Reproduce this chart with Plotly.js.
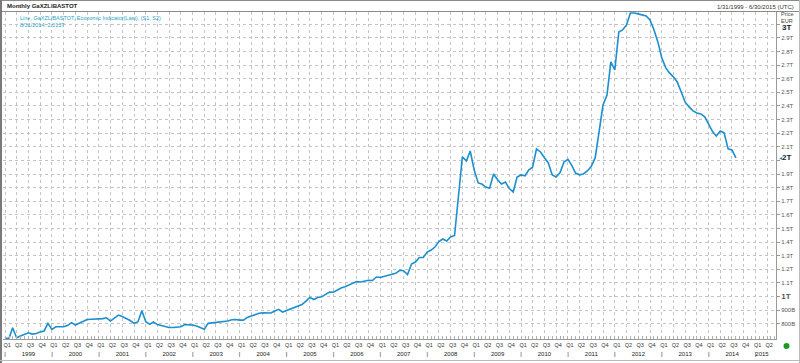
<!DOCTYPE html>
<html><head><meta charset="utf-8">
<script src="https://cdn.plot.ly/plotly-3.0.1.min.js"></script>
<style>html,body{margin:0;padding:0;background:#fff;}#chart{width:800px;height:363px;}</style>
</head><body><div id="chart"></div>
<script>
// ---- data (billions EUR), monthly from Jan 1999 ----
const startYear = 1999, startMonth = 0;
const values = [
 692,692,770,696,709,720,733,723,727,738,746,802,
 758,777,775,777,786,807,790,805,821,830,832,832,
 832,837,843,819,841,863,852,839,823,802,814,895,
 814,795,812,793,786,782,771,771,775,777,793,792,
 790,782,771,758,802,805,812,814,814,819,828,830,
 826,826,846,856,868,876,879,878,878,893,905,885,
 896,907,918,933,940,966,993,977,992,997,1014,1032,
 1031,1047,1062,1071,1082,1099,1110,1106,1113,1119,1117,1143,
 1139,1146,1157,1163,1170,1192,1189,1161,1238,1253,1286,1286,
 1326,1341,1363,1404,1422,1407,1437,1448,1733,2027,1996,2069,
 1929,1834,1826,1804,1795,1900,1860,1826,1841,1793,1768,1878,
 1893,1887,1929,1951,2084,2062,2021,1981,1893,1878,1911,1988,
 2008,1962,1907,1894,1900,1922,1955,2018,2216,2407,2481,2724,
 2665,2944,2959,2996,3084,3084,3077,3070,3062,3032,2959,2871,
 2753,2680,2643,2614,2577,2503,2430,2393,2364,2349,2342,2320,
 2269,2210,2180,2216,2202,2085,2077,2018
];
const yTickVals = [800,900,1000,1100,1200,1300,1400,1500,1600,1700,1800,1900,2000,2100,2200,2300,2400,2500,2600,2700,2800,2900,3000];
const yTickText = ['800B','900B','<b style="font-size:8px">1T</b>','1.1T','1.2T','1.3T','1.4T','1.5T','1.6T','1.7T','1.8T','1.9T','','2.1T','2.2T','2.3T','2.4T','2.5T','2.6T','2.7T','2.8T','2.9T',''];
const topTickLabel = '3T';
const years = [1999,2000,2001,2002,2003,2004,2005,2006,2007,2008,2009,2010,2011,2012,2013,2014,2015];
const quarterNames = ['Q1','Q2','Q3','Q4'];
const seriesName = 'Line, GaXZLIBASTOT, Economic Indicator(Last), (S1, S2)';
const lastLabel = '8/31/2014: 2.013T';
const lastTickLabel = '2T';

function pad(n){return (n<10?'0':'')+n;}
const dates = values.map((v,i)=>{const m=startMonth+i;return (startYear+Math.floor(m/12))+'-'+pad(m%12+1)+'-01';});

// quarter ticks
const qVals=[], qText=[];
years.forEach(y=>{[1,4,7,10].forEach((mo,k)=>{ if(y===2015 && k>1) return; qVals.push(y+'-'+pad(mo)+'-01'); qText.push(quarterNames[k]);});});
// year ticks
const yrVals=[], yrText=[];
years.forEach(y=>{yrVals.push(y+'-01-01'); yrText.push('|'); if(y<2015){yrVals.push(y+'-07-02'); yrText.push(String(y));} else {yrVals.push(y+'-02-20'); yrText.push(String(y));}});

const W=800,H=363,L=3,R=24,T=12,B=24;
const pw=W-L-R, ph=H-T-B;
const fx=px=>(px-L)/pw, fy=py=>1-(py-T)/ph;

const lineColor='#1b8fcf';
const font="Liberation Sans, Arial, sans-serif";

const traces=[
 {x:dates,y:values,type:'scatter',mode:'lines',line:{color:lineColor,width:1.6},hoverinfo:'skip',showlegend:false},
 {x:[dates[0]],y:[null],xaxis:'x2',type:'scatter',mode:'lines',showlegend:false,hoverinfo:'skip'}
];

const xRange=['1998-12-16','2015-06-09'];
const layout={
 width:W,height:H,margin:{l:L,r:R,t:T,b:B},
 paper_bgcolor:'#fff',plot_bgcolor:'#fff',
 font:{family:font,size:6,color:'#333'},
 showlegend:false,
 xaxis:{type:'date',range:xRange,tickmode:'array',tickvals:qVals,ticktext:qText,
   tickangle:0,tickfont:{size:5.5,color:'#333'},ticks:'',ticklabelshift:2,ticklabelstandoff:0,
   showgrid:true,gridcolor:'#c4c4c4',griddash:'dot',gridwidth:1,
   showline:true,linecolor:'#9a9a9a',linewidth:1,zeroline:false,
   minor:{ticks:'inside',ticklen:3,tickcolor:'#b0b0b0',dtick:'M1',tick0:'1999-01-01',showgrid:false},
   fixedrange:true},
 xaxis2:{type:'date',overlaying:'x',anchor:'y',side:'bottom',range:xRange,tickmode:'array',tickvals:yrVals,ticktext:yrText,
   tickangle:0,tickfont:{size:6,color:'#222'},ticks:'',showgrid:false,showline:false,zeroline:false,ticklabelstandoff:10},
 yaxis:{side:'right',range:[687,3091],tickmode:'array',tickvals:yTickVals,ticktext:yTickText,
   tickfont:{size:6,color:'#555'},ticks:'outside',ticklen:3,tickcolor:'#999',
   showgrid:true,gridcolor:'#c4c4c4',griddash:'dot',gridwidth:1,
   showline:true,linecolor:'#9a9a9a',linewidth:1,zeroline:false,fixedrange:true},
 shapes:[
  {type:'line',xref:'paper',yref:'paper',x0:fx(0),x1:fx(W),y0:fy(11.5),y1:fy(11.5),line:{color:'#8a8a8a',width:1}},
  {type:'line',xref:'paper',yref:'paper',x0:fx(0),x1:fx(W),y0:fy(0.5),y1:fy(0.5),line:{color:'#8a8a8a',width:1}},
  {type:'line',xref:'paper',yref:'paper',x0:fx(1),x1:fx(1),y0:fy(0),y1:fy(H),line:{color:'#7a7a7a',width:2}},
  {type:'line',xref:'paper',yref:'paper',x0:fx(799.5),x1:fx(799.5),y0:fy(0),y1:fy(H),line:{color:'#bbbbbb',width:1}},
  {type:'line',xref:'paper',yref:'paper',x0:fx(0),x1:fx(W),y0:fy(360.5),y1:fy(360.5),line:{color:'#bbbbbb',width:1}},
  {type:'circle',xref:'paper',yref:'paper',x0:fx(783.5),x1:fx(789.5),y0:fy(343),y1:fy(349),fillcolor:'#1e9a1e',line:{width:0}}
 ],
 annotations:[
  {xref:'paper',yref:'paper',x:fx(5),y:fy(6),xanchor:'left',yanchor:'middle',showarrow:false,text:'<b>Monthly GaXZLIBASTOT</b>',font:{size:6,color:'#222'}},
  {xref:'paper',yref:'paper',x:fx(796),y:fy(6.5),xanchor:'right',yanchor:'middle',showarrow:false,text:'1/31/1999 - 6/30/2015 (UTC)',font:{size:6,color:'#333'}},
  {xref:'paper',yref:'paper',x:fx(18),y:fy(18),xanchor:'left',yanchor:'middle',showarrow:false,text:seriesName,font:{size:5.5,color:'#2aa5c5'}},
  {xref:'paper',yref:'paper',x:fx(18),y:fy(25),xanchor:'left',yanchor:'middle',showarrow:false,text:lastLabel,font:{size:5.5,color:'#2aa5c5'}},
  {xref:'paper',yref:'paper',x:fx(779),y:fy(14),xanchor:'left',yanchor:'middle',showarrow:false,text:'Price',font:{size:5.5,color:'#444'}},
  {xref:'paper',yref:'paper',x:fx(779),y:fy(20.5),xanchor:'left',yanchor:'middle',showarrow:false,text:'EUR',font:{size:5.5,color:'#444'}},
  {xref:'paper',yref:'paper',x:fx(780),y:fy(28),xanchor:'left',yanchor:'middle',showarrow:false,text:'<b>'+topTickLabel+'</b>',font:{size:8,color:'#222'}},
  {xref:'paper',yref:'y',x:fx(777),y:values[values.length-1],xanchor:'left',yanchor:'middle',showarrow:false,
   text:'<span style="color:'+lineColor+'">◂</span><b style="font-size:8px">'+lastTickLabel+'</b>',font:{size:6,color:'#222'}}
 ]
};
Plotly.newPlot('chart',traces,layout,{staticPlot:true,displayModeBar:false});
</script></body></html>
